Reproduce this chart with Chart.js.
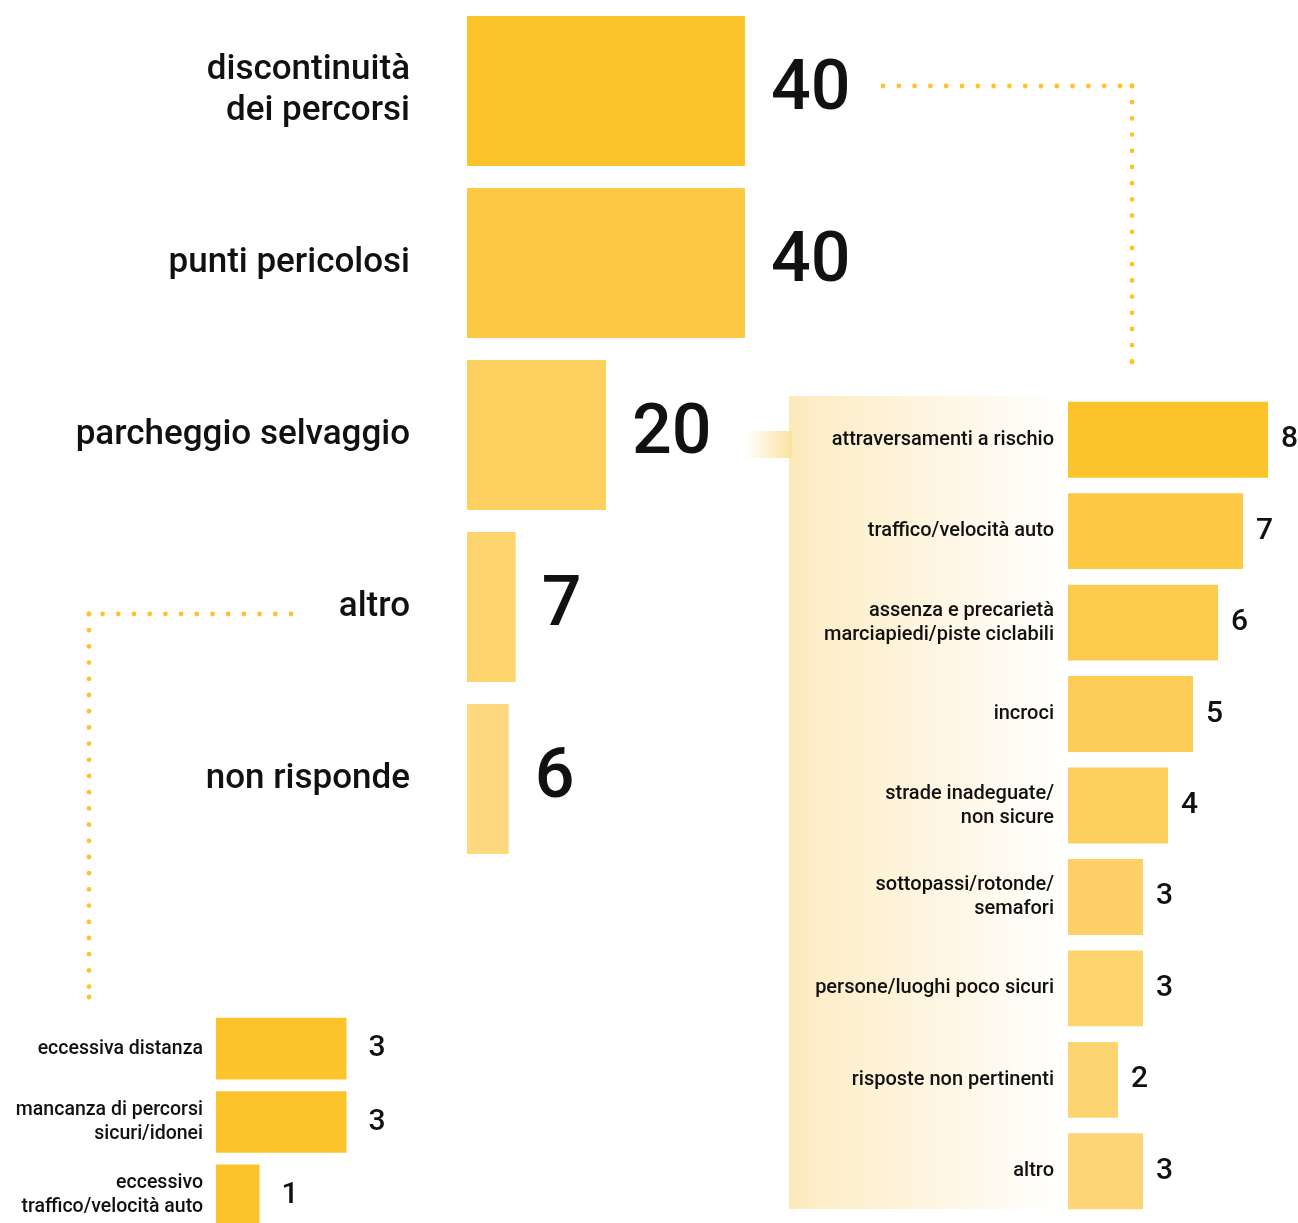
<!DOCTYPE html>
<html>
<head>
<meta charset="utf-8">
<script src="https://cdn.jsdelivr.net/npm/chart.js@4.4.1/dist/chart.umd.min.js"></script>
<style>
  html, body { margin: 0; padding: 0; background: #fff; overflow: hidden; }
  #page { position: relative; width: 1298px; height: 1223px; overflow: hidden; }
  canvas { position: absolute; }
</style>
</head>
<body>
<div id="page">
  <canvas id="deco" width="1298" height="1223" style="left:0;top:0"></canvas>
  <canvas id="mainChart" width="900" height="870" style="left:0;top:0"></canvas>
  <canvas id="rightChart" width="509" height="843" style="left:789px;top:380px"></canvas>
  <canvas id="leftChart" width="420" height="240" style="left:0;top:1000px"></canvas>
</div>
<script>
// main breakdown
const mainLabels = [["discontinuità", "dei percorsi"], "punti pericolosi", "parcheggio selvaggio", "altro", "non risponde"];
const mainValues = [40, 40, 20, 7, 6];

// detail of "punti pericolosi"
const rightLabels = [
  "attraversamenti a rischio",
  "traffico/velocità auto",
  ["assenza e precarietà", "marciapiedi/piste ciclabili"],
  "incroci",
  ["strade inadeguate/", "non sicure"],
  ["sottopassi/rotonde/", "semafori"],
  "persone/luoghi poco sicuri",
  "risposte non pertinenti",
  "altro"
];
const rightValues = [8, 7, 6, 5, 4, 3, 3, 2, 3];

// detail of "discontinuità dei percorsi"
const leftLabels = ["eccessiva distanza", ["mancanza di percorsi", "sicuri/idonei"], ["eccessivo", "traffico/velocità auto"]];
const leftValues = [3, 3, 1];

const FONT = "Roboto, 'Noto Sans', sans-serif";
const NUM_FONT = "Roboto, sans-serif";

// draws the value at the end of every bar
const valueLabels = {
  id: "valueLabels",
  afterDatasetsDraw(chart, args, opts) {
    const ctx = chart.ctx;
    const ds = chart.data.datasets[0];
    const meta = chart.getDatasetMeta(0);
    ctx.save();
    ctx.fillStyle = "#111";
    ctx.font = opts.weight + " " + opts.size + "px " + NUM_FONT;
    ctx.textAlign = "left";
    ctx.textBaseline = "middle";
    meta.data.forEach((bar, i) => {
      ctx.fillText(String(ds.data[i]), bar.x + opts.offset, bar.y + (opts.dy || 0));
    });
    ctx.restore();
  }
};

function barChart(id, labels, values, colors, cfg) {
  return new Chart(document.getElementById(id), {
    type: "bar",
    data: {
      labels: labels,
      datasets: [{
        data: values,
        backgroundColor: colors,
        borderWidth: 0,
        barPercentage: 1,
        categoryPercentage: cfg.fill
      }]
    },
    options: {
      indexAxis: "y",
      responsive: false,
      animation: false,
      devicePixelRatio: 1,
      layout: { padding: cfg.padding },
      plugins: {
        legend: { display: false },
        tooltip: { enabled: false },
        valueLabels: cfg.values
      },
      scales: {
        x: { display: false, min: 0, max: cfg.max },
        y: {
          border: { display: false },
          grid: { display: false, drawTicks: false },
          afterFit: (scale) => {
            // fixed axis width, and no extra vertical room for the labels
            scale.width = cfg.axisWidth;
            scale.paddingTop = 0;
            scale.paddingBottom = 0;
          },
          ticks: {
            autoSkip: false,
            color: "#111",
            padding: cfg.tickPadding,
            font: { family: FONT, size: cfg.labelSize, weight: "500", lineHeight: cfg.lineHeight }
          }
        }
      }
    },
    plugins: [valueLabels]
  });
}

barChart("mainChart", mainLabels, mainValues,
  ["#fdc32a", "#fdc945", "#fdd05f", "#fdd46e", "#fdd87f"],
  { fill: 0.872, padding: { top: 5, bottom: 5, left: 0, right: 16 }, max: 60,
    axisWidth: 467, tickPadding: 57, labelSize: 35, lineHeight: 1.17,
    values: { size: 70, weight: "500", offset: 26, dy: 0 } });

barChart("rightChart", rightLabels, rightValues,
  ["#fdc32a", "#fdc945", "#fdcb4e", "#fdcd57", "#fdcf5f", "#fdd167", "#fdd36e", "#fdd472", "#fdd576"],
  { fill: 0.83, padding: { top: 14, bottom: 6, left: 0, right: 5 }, max: 9,
    axisWidth: 279, tickPadding: 14, labelSize: 20, lineHeight: 1.2,
    values: { size: 30, weight: "500", offset: 13, dy: 0 } });

barChart("leftChart", leftLabels, leftValues,
  ["#fdc32a", "#fdc32a", "#fdc32a"],
  { fill: 0.84, padding: { top: 12, bottom: 8, left: 0, right: 30 }, max: 4,
    axisWidth: 216, tickPadding: 13, labelSize: 19.5, lineHeight: 1.23,
    values: { size: 30, weight: "500", offset: 22, dy: 0 } });

// decorations: shaded panel, connector band and dotted leader lines
(function drawDeco() {
  const ctx = document.getElementById("deco").getContext("2d");

  const panel = ctx.createLinearGradient(789, 0, 1066, 0);
  panel.addColorStop(0, "#fce9b9");
  panel.addColorStop(0.08, "#fdedc6");
  panel.addColorStop(1, "#ffffff");
  ctx.fillStyle = panel;
  ctx.fillRect(789, 396, 277, 813);

  const band = ctx.createLinearGradient(745, 0, 792, 0);
  band.addColorStop(0, "rgba(252,226,160,0)");
  band.addColorStop(1, "rgba(252,226,160,1)");
  ctx.fillStyle = band;
  ctx.fillRect(745, 431, 47, 27);

  function dots(x0, y0, x1, y1, step) {
    const len = Math.hypot(x1 - x0, y1 - y0);
    const n = Math.floor(len / step);
    ctx.fillStyle = "#fdc32a";
    for (let i = 0; i <= n; i++) {
      const t = (i * step) / len;
      ctx.beginPath();
      ctx.arc(x0 + (x1 - x0) * t, y0 + (y1 - y0) * t, 2.4, 0, Math.PI * 2);
      ctx.fill();
    }
    ctx.beginPath();
    ctx.arc(x1, y1, 2.4, 0, Math.PI * 2);
    ctx.fill();
  }
  dots(883, 86, 1132, 86, 15.8);
  dots(1132, 86, 1132, 362, 16.2);
  dots(291, 614, 89, 614, 15.7);
  dots(89, 614, 89, 997, 16.2);
})();
</script>
</body>
</html>
